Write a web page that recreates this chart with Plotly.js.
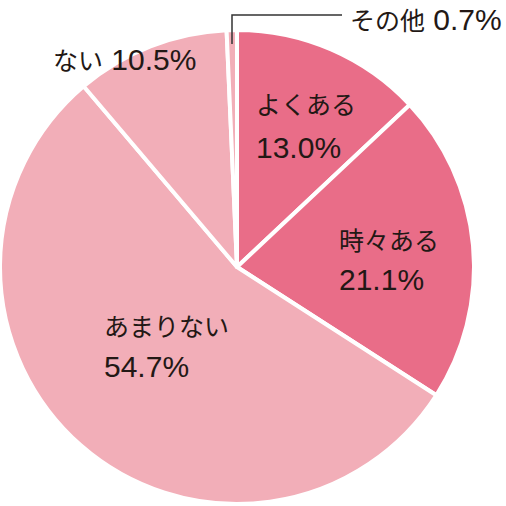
<!DOCTYPE html>
<html><head><meta charset="utf-8">
<script src="https://cdn.plot.ly/plotly-3.0.1.min.js"></script>
<style>html,body{margin:0;padding:0;background:#fff}#c{width:506px;height:506px}</style>
</head><body><div id="c"></div>
<script>
const labels = ["よくある", "時々ある", "あまりない", "ない", "その他"];
const values = [13.0, 21.1, 54.7, 10.5, 0.7];
const colors = ["#e96d88", "#e96d88", "#f2aeb8", "#f2aeb8", "#f2aeb8"];

const W = 506, H = 506;
const px = x => x / W, py = y => 1 - y / H;
const fmt = v => v.toFixed(1) + "%";
const ink = "#231815";
const jp = {family: "Noto Sans CJK JP, Noto Sans, sans-serif", size: 25, color: ink};
const num = {family: "Liberation Sans, Arial, sans-serif", size: 30, color: ink};

function ann(x, y, text, f, ya) {
  return {x: px(x), y: py(y), xref: "paper", yref: "paper", xanchor: "left", yanchor: ya || "middle",
    showarrow: false, text: text, font: f, borderpad: 0};
}
function mixed(l, v) {
  return `<span style="font-family:Noto Sans CJK JP;font-size:25px">${l}</span>` +
         `<span style="font-family:Liberation Sans;font-size:30px"> ${fmt(v)}</span>`;
}
// two-line labels: [labelX, labelY, valueY]
const twoLine = {0: [255, 103, 147], 1: [338, 239, 279], 2: [103, 325, 366]};
const oneLine = {3: [52, 59, "middle"], 4: [349, 0, "top"]};
const annotations = [];
labels.forEach((l, i) => {
  if (twoLine[i]) {
    const p = twoLine[i];
    annotations.push(ann(p[0], p[1], l, jp));
    annotations.push(ann(p[0], p[2], fmt(values[i]), num));
  } else {
    const p = oneLine[i];
    annotations.push(ann(p[0], p[1], mixed(l, values[i]), num, p[2]));
  }
});

const data = [{
  type: "pie", labels: labels, values: values, sort: false, direction: "clockwise",
  rotation: 0, textinfo: "none", hoverinfo: "none",
  marker: {colors: colors, line: {color: "#ffffff", width: 4}},
  domain: {x: [px(0), px(474)], y: [py(504), py(30)]}
}];
const layout = {
  width: W, height: H, margin: {l: 0, r: 0, t: 0, b: 0}, showlegend: false,
  paper_bgcolor: "#fff", annotations: annotations,
  shapes: [{type: "path", xref: "paper", yref: "paper",
    path: `M ${px(232)} ${py(44)} L ${px(232)} ${py(15)} L ${px(342)} ${py(15)}`,
    line: {color: "#333", width: 1.5}}]
};
Plotly.newPlot("c", data, layout, {staticPlot: true});
</script></body></html>
